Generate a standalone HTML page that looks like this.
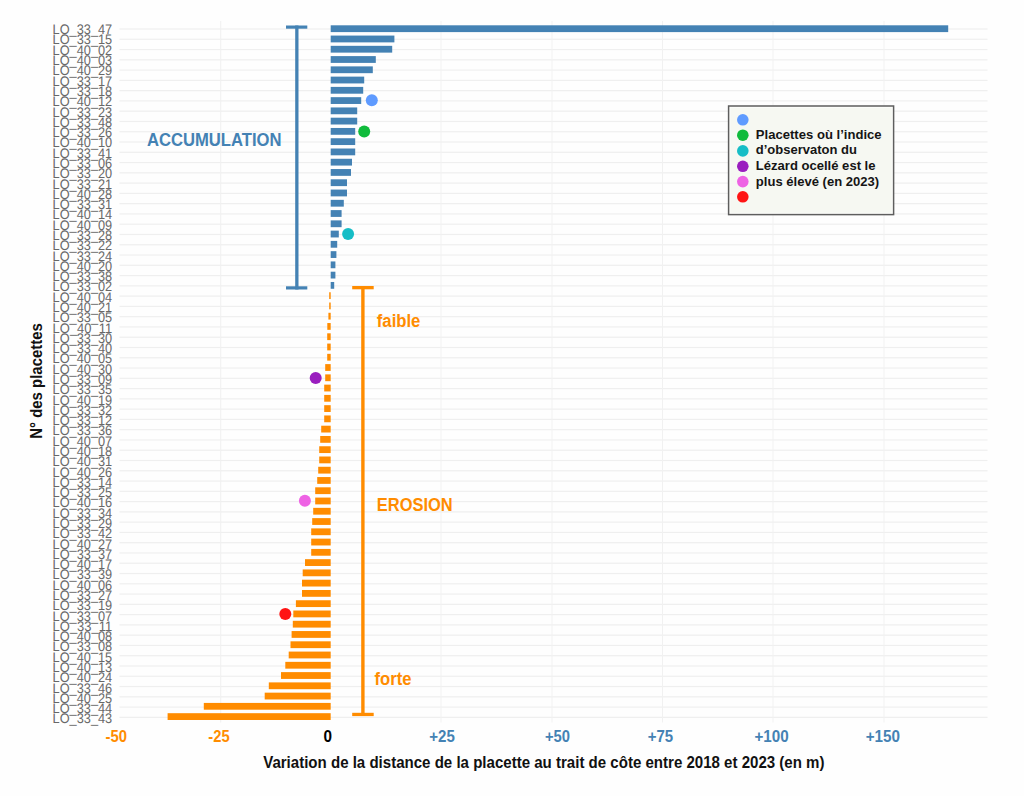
<!DOCTYPE html>
<html><head><meta charset="utf-8">
<style>
html,body{margin:0;padding:0;background:#fefefe;}
body{width:1024px;height:796px;overflow:hidden;}
svg{display:block;}
text{font-family:"Liberation Sans", sans-serif;}
.lab{font-size:13.8px;fill:#686868;text-rendering:geometricPrecision;}
.leg{font-size:12.9px;font-weight:bold;fill:#151515;}
.ann{font-size:18px;font-weight:bold;}
.ann2{font-size:17.5px;font-weight:bold;}
.tick{font-size:16px;font-weight:bold;}
.title{font-size:16px;font-weight:bold;fill:#111;}
</style></head><body>
<svg width="1024" height="796" viewBox="0 0 1024 796">
<rect x="119.5" y="28.40" width="868" height="1.2" fill="#efefef"/>
<rect x="119.5" y="38.67" width="868" height="1.2" fill="#efefef"/>
<rect x="119.5" y="48.95" width="868" height="1.2" fill="#efefef"/>
<rect x="119.5" y="59.22" width="868" height="1.2" fill="#efefef"/>
<rect x="119.5" y="69.50" width="868" height="1.2" fill="#efefef"/>
<rect x="119.5" y="79.77" width="868" height="1.2" fill="#efefef"/>
<rect x="119.5" y="90.04" width="868" height="1.2" fill="#efefef"/>
<rect x="119.5" y="100.32" width="868" height="1.2" fill="#efefef"/>
<rect x="119.5" y="110.59" width="868" height="1.2" fill="#efefef"/>
<rect x="119.5" y="120.87" width="868" height="1.2" fill="#efefef"/>
<rect x="119.5" y="131.14" width="868" height="1.2" fill="#efefef"/>
<rect x="119.5" y="141.41" width="868" height="1.2" fill="#efefef"/>
<rect x="119.5" y="151.69" width="868" height="1.2" fill="#efefef"/>
<rect x="119.5" y="161.96" width="868" height="1.2" fill="#efefef"/>
<rect x="119.5" y="172.24" width="868" height="1.2" fill="#efefef"/>
<rect x="119.5" y="182.51" width="868" height="1.2" fill="#efefef"/>
<rect x="119.5" y="192.78" width="868" height="1.2" fill="#efefef"/>
<rect x="119.5" y="203.06" width="868" height="1.2" fill="#efefef"/>
<rect x="119.5" y="213.33" width="868" height="1.2" fill="#efefef"/>
<rect x="119.5" y="223.61" width="868" height="1.2" fill="#efefef"/>
<rect x="119.5" y="233.88" width="868" height="1.2" fill="#efefef"/>
<rect x="119.5" y="244.15" width="868" height="1.2" fill="#efefef"/>
<rect x="119.5" y="254.43" width="868" height="1.2" fill="#efefef"/>
<rect x="119.5" y="264.70" width="868" height="1.2" fill="#efefef"/>
<rect x="119.5" y="274.98" width="868" height="1.2" fill="#efefef"/>
<rect x="119.5" y="285.25" width="868" height="1.2" fill="#efefef"/>
<rect x="119.5" y="295.52" width="868" height="1.2" fill="#efefef"/>
<rect x="119.5" y="305.80" width="868" height="1.2" fill="#efefef"/>
<rect x="119.5" y="316.07" width="868" height="1.2" fill="#efefef"/>
<rect x="119.5" y="326.35" width="868" height="1.2" fill="#efefef"/>
<rect x="119.5" y="336.62" width="868" height="1.2" fill="#efefef"/>
<rect x="119.5" y="346.89" width="868" height="1.2" fill="#efefef"/>
<rect x="119.5" y="357.17" width="868" height="1.2" fill="#efefef"/>
<rect x="119.5" y="367.44" width="868" height="1.2" fill="#efefef"/>
<rect x="119.5" y="377.72" width="868" height="1.2" fill="#efefef"/>
<rect x="119.5" y="387.99" width="868" height="1.2" fill="#efefef"/>
<rect x="119.5" y="398.26" width="868" height="1.2" fill="#efefef"/>
<rect x="119.5" y="408.54" width="868" height="1.2" fill="#efefef"/>
<rect x="119.5" y="418.81" width="868" height="1.2" fill="#efefef"/>
<rect x="119.5" y="429.09" width="868" height="1.2" fill="#efefef"/>
<rect x="119.5" y="439.36" width="868" height="1.2" fill="#efefef"/>
<rect x="119.5" y="449.63" width="868" height="1.2" fill="#efefef"/>
<rect x="119.5" y="459.91" width="868" height="1.2" fill="#efefef"/>
<rect x="119.5" y="470.18" width="868" height="1.2" fill="#efefef"/>
<rect x="119.5" y="480.46" width="868" height="1.2" fill="#efefef"/>
<rect x="119.5" y="490.73" width="868" height="1.2" fill="#efefef"/>
<rect x="119.5" y="501.00" width="868" height="1.2" fill="#efefef"/>
<rect x="119.5" y="511.28" width="868" height="1.2" fill="#efefef"/>
<rect x="119.5" y="521.55" width="868" height="1.2" fill="#efefef"/>
<rect x="119.5" y="531.83" width="868" height="1.2" fill="#efefef"/>
<rect x="119.5" y="542.10" width="868" height="1.2" fill="#efefef"/>
<rect x="119.5" y="552.37" width="868" height="1.2" fill="#efefef"/>
<rect x="119.5" y="562.65" width="868" height="1.2" fill="#efefef"/>
<rect x="119.5" y="572.92" width="868" height="1.2" fill="#efefef"/>
<rect x="119.5" y="583.20" width="868" height="1.2" fill="#efefef"/>
<rect x="119.5" y="593.47" width="868" height="1.2" fill="#efefef"/>
<rect x="119.5" y="603.74" width="868" height="1.2" fill="#efefef"/>
<rect x="119.5" y="614.02" width="868" height="1.2" fill="#efefef"/>
<rect x="119.5" y="624.29" width="868" height="1.2" fill="#efefef"/>
<rect x="119.5" y="634.57" width="868" height="1.2" fill="#efefef"/>
<rect x="119.5" y="644.84" width="868" height="1.2" fill="#efefef"/>
<rect x="119.5" y="655.11" width="868" height="1.2" fill="#efefef"/>
<rect x="119.5" y="665.39" width="868" height="1.2" fill="#efefef"/>
<rect x="119.5" y="675.66" width="868" height="1.2" fill="#efefef"/>
<rect x="119.5" y="685.94" width="868" height="1.2" fill="#efefef"/>
<rect x="119.5" y="696.21" width="868" height="1.2" fill="#efefef"/>
<rect x="119.5" y="706.48" width="868" height="1.2" fill="#efefef"/>
<rect x="119.5" y="716.76" width="868" height="1.2" fill="#efefef"/>
<rect x="220.2" y="21" width="1" height="701.5" fill="#f1f1f1"/>
<rect x="440.5" y="21" width="1" height="701.5" fill="#f1f1f1"/>
<rect x="551.5" y="21" width="1" height="701.5" fill="#f1f1f1"/>
<rect x="662.0" y="21" width="1" height="701.5" fill="#f1f1f1"/>
<rect x="772.5" y="21" width="1" height="701.5" fill="#f1f1f1"/>
<rect x="883.5" y="21" width="1" height="701.5" fill="#f1f1f1"/>
<rect x="330.7" y="25.30" width="617.50" height="6.8" fill="#4482b4"/>
<rect x="330.7" y="35.57" width="63.70" height="6.8" fill="#4482b4"/>
<rect x="330.7" y="45.83" width="61.50" height="6.8" fill="#4482b4"/>
<rect x="330.7" y="56.10" width="45.10" height="6.8" fill="#4482b4"/>
<rect x="330.7" y="66.37" width="42.10" height="6.8" fill="#4482b4"/>
<rect x="330.7" y="76.63" width="33.50" height="6.8" fill="#4482b4"/>
<rect x="330.7" y="86.90" width="32.50" height="6.8" fill="#4482b4"/>
<rect x="330.7" y="97.17" width="30.50" height="6.8" fill="#4482b4"/>
<rect x="330.7" y="107.44" width="26.50" height="6.8" fill="#4482b4"/>
<rect x="330.7" y="117.70" width="26.50" height="6.8" fill="#4482b4"/>
<rect x="330.7" y="127.97" width="24.50" height="6.8" fill="#4482b4"/>
<rect x="330.7" y="138.24" width="24.50" height="6.8" fill="#4482b4"/>
<rect x="330.7" y="148.50" width="24.50" height="6.8" fill="#4482b4"/>
<rect x="330.7" y="158.77" width="21.30" height="6.8" fill="#4482b4"/>
<rect x="330.7" y="169.04" width="20.30" height="6.8" fill="#4482b4"/>
<rect x="330.7" y="179.30" width="16.30" height="6.8" fill="#4482b4"/>
<rect x="330.7" y="189.57" width="16.30" height="6.8" fill="#4482b4"/>
<rect x="330.7" y="199.84" width="13.10" height="6.8" fill="#4482b4"/>
<rect x="330.7" y="210.11" width="10.90" height="6.8" fill="#4482b4"/>
<rect x="330.7" y="220.37" width="10.90" height="6.8" fill="#4482b4"/>
<rect x="330.7" y="230.64" width="8.10" height="6.8" fill="#4482b4"/>
<rect x="330.7" y="240.91" width="6.50" height="6.8" fill="#4482b4"/>
<rect x="330.7" y="251.17" width="5.70" height="6.8" fill="#4482b4"/>
<rect x="330.7" y="261.44" width="4.70" height="6.8" fill="#4482b4"/>
<rect x="330.7" y="271.71" width="4.70" height="6.8" fill="#4482b4"/>
<rect x="330.7" y="281.98" width="3.50" height="6.8" fill="#4482b4"/>
<rect x="329.2" y="292.24" width="1.50" height="6.8" fill="#ff8c00"/>
<rect x="329.2" y="302.51" width="1.50" height="6.8" fill="#ff8c00"/>
<rect x="328.4" y="312.78" width="2.30" height="6.8" fill="#ff8c00"/>
<rect x="327.3" y="323.04" width="3.40" height="6.8" fill="#ff8c00"/>
<rect x="327.2" y="333.31" width="3.50" height="6.8" fill="#ff8c00"/>
<rect x="327.2" y="343.58" width="3.50" height="6.8" fill="#ff8c00"/>
<rect x="327.2" y="353.84" width="3.50" height="6.8" fill="#ff8c00"/>
<rect x="325.2" y="364.11" width="5.50" height="6.8" fill="#ff8c00"/>
<rect x="325.2" y="374.38" width="5.50" height="6.8" fill="#ff8c00"/>
<rect x="324.2" y="384.64" width="6.50" height="6.8" fill="#ff8c00"/>
<rect x="324.2" y="394.91" width="6.50" height="6.8" fill="#ff8c00"/>
<rect x="324.2" y="405.18" width="6.50" height="6.8" fill="#ff8c00"/>
<rect x="324.2" y="415.45" width="6.50" height="6.8" fill="#ff8c00"/>
<rect x="321.2" y="425.71" width="9.50" height="6.8" fill="#ff8c00"/>
<rect x="320.2" y="435.98" width="10.50" height="6.8" fill="#ff8c00"/>
<rect x="319.2" y="446.25" width="11.50" height="6.8" fill="#ff8c00"/>
<rect x="319.2" y="456.51" width="11.50" height="6.8" fill="#ff8c00"/>
<rect x="318.2" y="466.78" width="12.50" height="6.8" fill="#ff8c00"/>
<rect x="317.2" y="477.05" width="13.50" height="6.8" fill="#ff8c00"/>
<rect x="315.2" y="487.31" width="15.50" height="6.8" fill="#ff8c00"/>
<rect x="315.2" y="497.58" width="15.50" height="6.8" fill="#ff8c00"/>
<rect x="313.2" y="507.85" width="17.50" height="6.8" fill="#ff8c00"/>
<rect x="312.2" y="518.12" width="18.50" height="6.8" fill="#ff8c00"/>
<rect x="311.2" y="528.38" width="19.50" height="6.8" fill="#ff8c00"/>
<rect x="311.2" y="538.65" width="19.50" height="6.8" fill="#ff8c00"/>
<rect x="311.2" y="548.92" width="19.50" height="6.8" fill="#ff8c00"/>
<rect x="305" y="559.18" width="25.70" height="6.8" fill="#ff8c00"/>
<rect x="302.7" y="569.45" width="28.00" height="6.8" fill="#ff8c00"/>
<rect x="302" y="579.72" width="28.70" height="6.8" fill="#ff8c00"/>
<rect x="302" y="589.99" width="28.70" height="6.8" fill="#ff8c00"/>
<rect x="295.9" y="600.25" width="34.80" height="6.8" fill="#ff8c00"/>
<rect x="293.3" y="610.52" width="37.40" height="6.8" fill="#ff8c00"/>
<rect x="292.8" y="620.79" width="37.90" height="6.8" fill="#ff8c00"/>
<rect x="291.6" y="631.05" width="39.10" height="6.8" fill="#ff8c00"/>
<rect x="290.5" y="641.32" width="40.20" height="6.8" fill="#ff8c00"/>
<rect x="288.7" y="651.59" width="42.00" height="6.8" fill="#ff8c00"/>
<rect x="285.3" y="661.85" width="45.40" height="6.8" fill="#ff8c00"/>
<rect x="281" y="672.12" width="49.70" height="6.8" fill="#ff8c00"/>
<rect x="268.8" y="682.39" width="61.90" height="6.8" fill="#ff8c00"/>
<rect x="264.7" y="692.66" width="66.00" height="6.8" fill="#ff8c00"/>
<rect x="203.8" y="702.92" width="126.90" height="6.8" fill="#ff8c00"/>
<rect x="167.6" y="713.19" width="163.10" height="6.8" fill="#ff8c00"/>
<rect x="286" y="25.5" width="21.3" height="3.2" fill="#4482b4"/>
<rect x="286" y="286.3" width="21.3" height="3.2" fill="#4482b4"/>
<rect x="295.2" y="25.5" width="3.3" height="264" fill="#4482b4"/>
<rect x="352.2" y="286" width="21.5" height="3.3" fill="#ff8c00"/>
<rect x="352.2" y="712.8" width="21.5" height="3.3" fill="#ff8c00"/>
<rect x="361.2" y="286" width="3.4" height="430" fill="#ff8c00"/>
<circle cx="371.8" cy="100.2" r="6" fill="#5f9bff"/>
<circle cx="364.2" cy="131.6" r="6" fill="#10bb3c"/>
<circle cx="348.1" cy="233.9" r="6" fill="#16bdc6"/>
<circle cx="315.7" cy="378" r="6" fill="#9a1ebf"/>
<circle cx="304.9" cy="500.7" r="6" fill="#ee62e4"/>
<circle cx="285.3" cy="614.1" r="6" fill="#ff1414"/>
<text x="52.6" y="34.20" class="lab" textLength="59.6" lengthAdjust="spacingAndGlyphs">LO_33_47</text>
<text x="52.6" y="44.49" class="lab" textLength="59.6" lengthAdjust="spacingAndGlyphs">LO_33_15</text>
<text x="52.6" y="54.77" class="lab" textLength="59.6" lengthAdjust="spacingAndGlyphs">LO_40_02</text>
<text x="52.6" y="65.06" class="lab" textLength="59.6" lengthAdjust="spacingAndGlyphs">LO_40_03</text>
<text x="52.6" y="75.35" class="lab" textLength="59.6" lengthAdjust="spacingAndGlyphs">LO_40_29</text>
<text x="52.6" y="85.64" class="lab" textLength="59.6" lengthAdjust="spacingAndGlyphs">LO_33_17</text>
<text x="52.6" y="95.92" class="lab" textLength="59.6" lengthAdjust="spacingAndGlyphs">LO_33_18</text>
<text x="52.6" y="106.21" class="lab" textLength="59.6" lengthAdjust="spacingAndGlyphs">LO_40_12</text>
<text x="52.6" y="116.50" class="lab" textLength="59.6" lengthAdjust="spacingAndGlyphs">LO_33_23</text>
<text x="52.6" y="126.78" class="lab" textLength="59.6" lengthAdjust="spacingAndGlyphs">LO_33_48</text>
<text x="52.6" y="137.07" class="lab" textLength="59.6" lengthAdjust="spacingAndGlyphs">LO_33_26</text>
<text x="52.6" y="147.36" class="lab" textLength="59.6" lengthAdjust="spacingAndGlyphs">LO_40_10</text>
<text x="52.6" y="157.64" class="lab" textLength="59.6" lengthAdjust="spacingAndGlyphs">LO_33_41</text>
<text x="52.6" y="167.93" class="lab" textLength="59.6" lengthAdjust="spacingAndGlyphs">LO_33_06</text>
<text x="52.6" y="178.22" class="lab" textLength="59.6" lengthAdjust="spacingAndGlyphs">LO_33_20</text>
<text x="52.6" y="188.50" class="lab" textLength="59.6" lengthAdjust="spacingAndGlyphs">LO_33_21</text>
<text x="52.6" y="198.79" class="lab" textLength="59.6" lengthAdjust="spacingAndGlyphs">LO_40_28</text>
<text x="52.6" y="209.08" class="lab" textLength="59.6" lengthAdjust="spacingAndGlyphs">LO_33_31</text>
<text x="52.6" y="219.37" class="lab" textLength="59.6" lengthAdjust="spacingAndGlyphs">LO_40_14</text>
<text x="52.6" y="229.65" class="lab" textLength="59.6" lengthAdjust="spacingAndGlyphs">LO_40_09</text>
<text x="52.6" y="239.94" class="lab" textLength="59.6" lengthAdjust="spacingAndGlyphs">LO_33_28</text>
<text x="52.6" y="250.23" class="lab" textLength="59.6" lengthAdjust="spacingAndGlyphs">LO_33_22</text>
<text x="52.6" y="260.51" class="lab" textLength="59.6" lengthAdjust="spacingAndGlyphs">LO_33_24</text>
<text x="52.6" y="270.80" class="lab" textLength="59.6" lengthAdjust="spacingAndGlyphs">LO_40_20</text>
<text x="52.6" y="281.09" class="lab" textLength="59.6" lengthAdjust="spacingAndGlyphs">LO_33_38</text>
<text x="52.6" y="291.38" class="lab" textLength="59.6" lengthAdjust="spacingAndGlyphs">LO_33_02</text>
<text x="52.6" y="301.66" class="lab" textLength="59.6" lengthAdjust="spacingAndGlyphs">LO_40_04</text>
<text x="52.6" y="311.95" class="lab" textLength="59.6" lengthAdjust="spacingAndGlyphs">LO_40_21</text>
<text x="52.6" y="322.24" class="lab" textLength="59.6" lengthAdjust="spacingAndGlyphs">LO_33_05</text>
<text x="52.6" y="332.52" class="lab" textLength="59.6" lengthAdjust="spacingAndGlyphs">LO_40_11</text>
<text x="52.6" y="342.81" class="lab" textLength="59.6" lengthAdjust="spacingAndGlyphs">LO_33_30</text>
<text x="52.6" y="353.10" class="lab" textLength="59.6" lengthAdjust="spacingAndGlyphs">LO_33_40</text>
<text x="52.6" y="363.38" class="lab" textLength="59.6" lengthAdjust="spacingAndGlyphs">LO_40_05</text>
<text x="52.6" y="373.67" class="lab" textLength="59.6" lengthAdjust="spacingAndGlyphs">LO_40_30</text>
<text x="52.6" y="383.96" class="lab" textLength="59.6" lengthAdjust="spacingAndGlyphs">LO_33_09</text>
<text x="52.6" y="394.25" class="lab" textLength="59.6" lengthAdjust="spacingAndGlyphs">LO_33_35</text>
<text x="52.6" y="404.53" class="lab" textLength="59.6" lengthAdjust="spacingAndGlyphs">LO_40_19</text>
<text x="52.6" y="414.82" class="lab" textLength="59.6" lengthAdjust="spacingAndGlyphs">LO_33_32</text>
<text x="52.6" y="425.11" class="lab" textLength="59.6" lengthAdjust="spacingAndGlyphs">LO_33_12</text>
<text x="52.6" y="435.39" class="lab" textLength="59.6" lengthAdjust="spacingAndGlyphs">LO_33_36</text>
<text x="52.6" y="445.68" class="lab" textLength="59.6" lengthAdjust="spacingAndGlyphs">LO_40_07</text>
<text x="52.6" y="455.97" class="lab" textLength="59.6" lengthAdjust="spacingAndGlyphs">LO_40_18</text>
<text x="52.6" y="466.25" class="lab" textLength="59.6" lengthAdjust="spacingAndGlyphs">LO_40_31</text>
<text x="52.6" y="476.54" class="lab" textLength="59.6" lengthAdjust="spacingAndGlyphs">LO_40_26</text>
<text x="52.6" y="486.83" class="lab" textLength="59.6" lengthAdjust="spacingAndGlyphs">LO_33_14</text>
<text x="52.6" y="497.12" class="lab" textLength="59.6" lengthAdjust="spacingAndGlyphs">LO_33_25</text>
<text x="52.6" y="507.40" class="lab" textLength="59.6" lengthAdjust="spacingAndGlyphs">LO_40_16</text>
<text x="52.6" y="517.69" class="lab" textLength="59.6" lengthAdjust="spacingAndGlyphs">LO_33_34</text>
<text x="52.6" y="527.98" class="lab" textLength="59.6" lengthAdjust="spacingAndGlyphs">LO_33_29</text>
<text x="52.6" y="538.26" class="lab" textLength="59.6" lengthAdjust="spacingAndGlyphs">LO_33_42</text>
<text x="52.6" y="548.55" class="lab" textLength="59.6" lengthAdjust="spacingAndGlyphs">LO_40_27</text>
<text x="52.6" y="558.84" class="lab" textLength="59.6" lengthAdjust="spacingAndGlyphs">LO_33_37</text>
<text x="52.6" y="569.12" class="lab" textLength="59.6" lengthAdjust="spacingAndGlyphs">LO_40_17</text>
<text x="52.6" y="579.41" class="lab" textLength="59.6" lengthAdjust="spacingAndGlyphs">LO_33_39</text>
<text x="52.6" y="589.70" class="lab" textLength="59.6" lengthAdjust="spacingAndGlyphs">LO_40_06</text>
<text x="52.6" y="599.99" class="lab" textLength="59.6" lengthAdjust="spacingAndGlyphs">LO_33_27</text>
<text x="52.6" y="610.27" class="lab" textLength="59.6" lengthAdjust="spacingAndGlyphs">LO_33_19</text>
<text x="52.6" y="620.56" class="lab" textLength="59.6" lengthAdjust="spacingAndGlyphs">LO_33_07</text>
<text x="52.6" y="630.85" class="lab" textLength="59.6" lengthAdjust="spacingAndGlyphs">LO_33_11</text>
<text x="52.6" y="641.13" class="lab" textLength="59.6" lengthAdjust="spacingAndGlyphs">LO_40_08</text>
<text x="52.6" y="651.42" class="lab" textLength="59.6" lengthAdjust="spacingAndGlyphs">LO_33_08</text>
<text x="52.6" y="661.71" class="lab" textLength="59.6" lengthAdjust="spacingAndGlyphs">LO_40_15</text>
<text x="52.6" y="671.99" class="lab" textLength="59.6" lengthAdjust="spacingAndGlyphs">LO_40_13</text>
<text x="52.6" y="682.28" class="lab" textLength="59.6" lengthAdjust="spacingAndGlyphs">LO_40_24</text>
<text x="52.6" y="692.57" class="lab" textLength="59.6" lengthAdjust="spacingAndGlyphs">LO_33_46</text>
<text x="52.6" y="702.86" class="lab" textLength="59.6" lengthAdjust="spacingAndGlyphs">LO_40_25</text>
<text x="52.6" y="713.14" class="lab" textLength="59.6" lengthAdjust="spacingAndGlyphs">LO_33_44</text>
<text x="52.6" y="723.43" class="lab" textLength="59.6" lengthAdjust="spacingAndGlyphs">LO_33_43</text>
<rect x="728.6" y="106" width="165" height="108.6" fill="#fdfdfb" stroke="#5e5e5e" stroke-width="1.5"/><rect x="730.4" y="107.8" width="161.4" height="105" fill="#f6f8f2"/>
<circle cx="742.8" cy="119.8" r="5.8" fill="#5f9bff"/>
<circle cx="742.8" cy="135.2" r="5.8" fill="#10bb3c"/>
<circle cx="742.8" cy="150.9" r="5.8" fill="#16bdc6"/>
<circle cx="742.8" cy="166.3" r="5.8" fill="#9a1ebf"/>
<circle cx="742.8" cy="181.6" r="5.8" fill="#ee62e4"/>
<circle cx="742.8" cy="196.8" r="5.8" fill="#ff1414"/>
<text x="755.8" y="138.60" class="leg" textLength="125.8" lengthAdjust="spacingAndGlyphs">Placettes où l’indice</text>
<text x="755.8" y="154.40" class="leg" textLength="101.2" lengthAdjust="spacingAndGlyphs">d’observaton du</text>
<text x="755.8" y="170.20" class="leg" textLength="119.7" lengthAdjust="spacingAndGlyphs">Lézard ocellé est le</text>
<text x="755.8" y="186.00" class="leg" textLength="123.4" lengthAdjust="spacingAndGlyphs">plus élevé (en 2023)</text>
<text x="147" y="146.3" class="ann" fill="#4482b4" textLength="134.5" lengthAdjust="spacingAndGlyphs">ACCUMULATION</text>
<text x="376.8" y="326.7" class="ann2" fill="#ff8c00" textLength="43.6" lengthAdjust="spacingAndGlyphs">faible</text>
<text x="376.8" y="511" class="ann2" fill="#ff8c00" textLength="75.9" lengthAdjust="spacingAndGlyphs">EROSION</text>
<text x="374.5" y="684.9" class="ann2" fill="#ff8c00" textLength="36.9" lengthAdjust="spacingAndGlyphs">forte</text>
<text x="105.6" y="741.7" class="tick" fill="#ff8c00" textLength="21.4" lengthAdjust="spacingAndGlyphs">-50</text>
<text x="208.3" y="741.7" class="tick" fill="#ff8c00" textLength="21.3" lengthAdjust="spacingAndGlyphs">-25</text>
<text x="323.4" y="741.7" class="tick" fill="#000" textLength="8.5" lengthAdjust="spacingAndGlyphs">0</text>
<text x="429.3" y="741.7" class="tick" fill="#4482b4" textLength="25.5" lengthAdjust="spacingAndGlyphs">+25</text>
<text x="545" y="741.7" class="tick" fill="#4482b4" textLength="25" lengthAdjust="spacingAndGlyphs">+50</text>
<text x="647.8" y="741.7" class="tick" fill="#4482b4" textLength="25.4" lengthAdjust="spacingAndGlyphs">+75</text>
<text x="754.4" y="741.7" class="tick" fill="#4482b4" textLength="34.2" lengthAdjust="spacingAndGlyphs">+100</text>
<text x="865.7" y="741.7" class="tick" fill="#4482b4" textLength="34.3" lengthAdjust="spacingAndGlyphs">+150</text>
<text x="263.2" y="768.2" class="title" textLength="561.3" lengthAdjust="spacingAndGlyphs">Variation de la distance de la placette au trait de côte entre 2018 et 2023 (en m)</text>
<text transform="translate(42.2,438.7) rotate(-90)" class="title" textLength="115.5" lengthAdjust="spacingAndGlyphs">N° des placettes</text>
</svg>
</body></html>
